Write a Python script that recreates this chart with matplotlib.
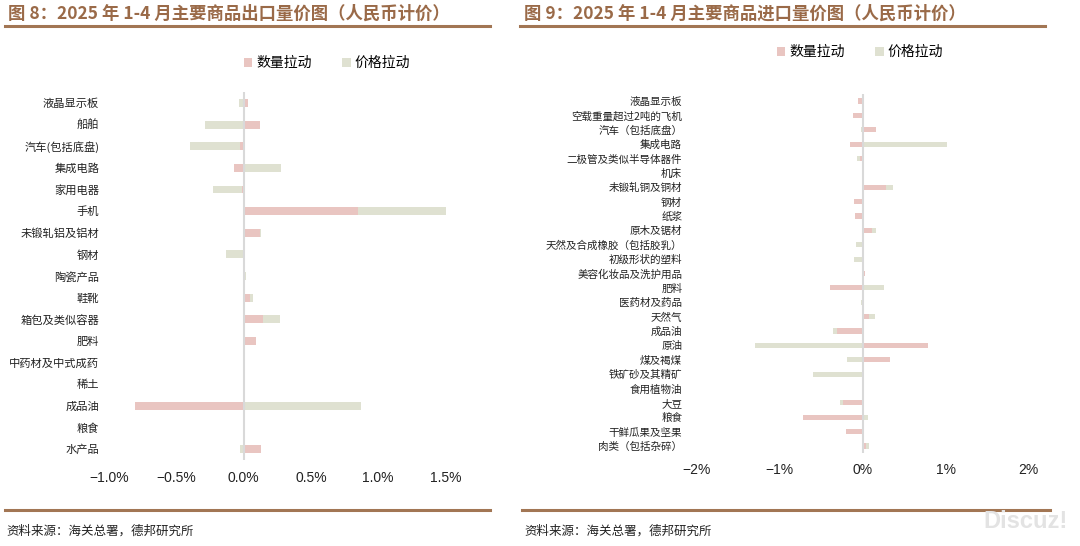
import matplotlib
matplotlib.use("Agg")
import matplotlib.pyplot as plt
from matplotlib.patches import Patch
from matplotlib.ticker import FuncFormatter
from matplotlib.lines import Line2D

plt.rcParams['font.family'] = ['Noto Sans CJK SC', 'DejaVu Sans']

# ---------------- data ----------------
export_cats = ["液晶显示板", "船舶", "汽车(包括底盘)", "集成电路", "家用电器", "手机",
               "未锻轧铝及铝材", "钢材", "陶瓷产品", "鞋靴", "箱包及类似容器", "肥料",
               "中药材及中式成药", "稀土", "成品油", "粮食", "水产品"]
export_qty = [0.035, 0.12, -0.03, -0.07, -0.015, 0.85, 0.123, 0.01, 0.0, 0.05, 0.14, 0.094,
              0.003, 0.002, -0.81, 0.01, 0.13]
export_price = [-0.035, -0.29, -0.37, 0.28, -0.215, 0.66, 0.008, -0.134, 0.02, 0.02, 0.13, 0.0,
                0.0, 0.0, 0.87, 0.0, -0.03]

import_cats = ["液晶显示板", "空载重量超过2吨的飞机", "汽车（包括底盘）", "集成电路",
               "二极管及类似半导体器件", "机床", "未锻轧铜及铜材", "钢材", "纸浆", "原木及锯材",
               "天然及合成橡胶（包括胶乳）", "初级形状的塑料", "美容化妆品及洗护用品", "肥料",
               "医药材及药品", "天然气", "成品油", "原油", "煤及褐煤", "铁矿砂及其精矿",
               "食用植物油", "大豆", "粮食", "干鲜瓜果及坚果", "肉类（包括杂碎）"]
import_qty = [-0.057, -0.117, 0.157, -0.153, -0.028, 0.0, 0.277, -0.105, -0.088, 0.108,
              0.0, 0.0, 0.028, -0.40, 0.0, 0.08, -0.313, 0.783, 0.33, 0.0,
              0.0, -0.234, -0.716, -0.205, 0.04]
import_price = [0.02, 0.0, -0.02, 1.01, -0.04, 0.015, 0.084, 0.02, 0.0, 0.056,
                -0.076, -0.11, 0.0, 0.257, -0.024, 0.068, -0.048, -1.293, -0.193, -0.595,
                0.02, -0.04, 0.068, 0.0, 0.032]

export_ticks = [-1.0, -0.5, 0.0, 0.5, 1.0, 1.5]
import_ticks = [-2, -1, 0, 1, 2]

legend_labels = ["数量拉动", "价格拉动"]
titles = ["图 8：2025 年 1-4 月主要商品出口量价图（人民币计价）",
          "图 9：2025 年 1-4 月主要商品进口量价图（人民币计价）"]
source = "资料来源：海关总署，德邦研究所"

# ---------------- style ----------------
PINK = "#E9C5C1"
GREEN = "#DFE1D1"
BROWN = "#A27654"
TITLE_C = "#9A6A48"

W, H = 1080, 546
fig = plt.figure(figsize=(W / 100, H / 100), dpi=100)


def px_rect(x0, y0, x1, y1):
    return [x0 / W, 1 - y1 / H, (x1 - x0) / W, (y1 - y0) / H]


def draw(ax, cats, qty, price, ticks, fmt, label_size, label_pad, tick_pad, bh):
    n = len(cats)
    ys = list(range(n))
    ax.barh(ys, qty, height=bh, color=PINK, zorder=2)
    lefts = [q if (q * p > 0) else 0 for q, p in zip(qty, price)]
    ax.barh(ys, price, left=lefts, height=bh, color=GREEN, zorder=2)
    ax.set_ylim(n - 0.5, -0.5)
    ax.set_xlim(ticks[0], ticks[-1])
    ax.set_xticks(ticks)
    ax.xaxis.set_major_formatter(FuncFormatter(fmt))
    ax.set_yticks(ys)
    ax.set_yticklabels(cats, fontsize=label_size, color="#222222")
    for s in ["top", "right", "bottom", "left"]:
        ax.spines[s].set_visible(False)
    ax.axvline(0, color="#D9D9D9", lw=1.5, zorder=3)
    ax.tick_params(axis="y", length=0, pad=label_pad)
    ax.tick_params(axis="x", length=0, pad=tick_pad, labelsize=10, labelcolor="#222222")
    for t in ax.get_xticklabels():
        t.set_fontfamily(["Liberation Sans", "DejaVu Sans"])


ax1 = fig.add_axes(px_rect(109.2, 92.2, 445.5, 459.8))
draw(ax1, export_cats, export_qty, export_price, export_ticks,
     lambda v, p: ("\u2212" if v < 0 else "") + f"{abs(v):.1f}%", 8.1, 7.2, 8, 0.36)

ax2 = fig.add_axes(px_rect(696.7, 93.8, 1028.7, 453.2))
draw(ax2, import_cats, import_qty, import_price, import_ticks,
     lambda v, p: ("\u2212" if v < 0 else "") + f"{abs(v):.0f}%", 7.6, 10.5, 7, 0.35)

handles = [Patch(facecolor=PINK, edgecolor="none"), Patch(facecolor=GREEN, edgecolor="none")]
for cx, cy in [(327, 63), (860, 52)]:
    fig.legend(handles, legend_labels, loc="center", bbox_to_anchor=(cx / W, 1 - cy / H),
               ncol=2, frameon=False, fontsize=10, handlelength=0.6, handleheight=0.6,
               handletextpad=0.3, columnspacing=2.2)

# titles and lines
for x0, x1, t in [(6, 490, titles[0]), (522, 1045, titles[1])]:
    fig.text(x0 + 2 / W * 0 + 2 / 1 * 0 + (0) + 2 / W, 1 - 14 / H, t, fontsize=12.5, fontweight="bold",
             color=TITLE_C, va="center", ha="left", transform=fig.transFigure) if False else None
fig.text(8 / W, 1 - 14 / H, titles[0], fontsize=12.5, fontweight="bold", color=TITLE_C,
         va="center", ha="left")
fig.text(524 / W, 1 - 14 / H, titles[1], fontsize=12.5, fontweight="bold", color=TITLE_C,
         va="center", ha="left")
for x0, x1, y in [(5, 490, 25.5), (520, 1045, 25.5), (5, 490, 509.5), (522, 1050, 509.5)]:
    fig.add_artist(Line2D([x0 / W, x1 / W], [1 - y / H, 1 - y / H], color=BROWN, lw=2.2))

fig.text(6 / W, 1 - 531 / H, source, fontsize=9, color="#222222", va="center", ha="left")
fig.text(524 / W, 1 - 531 / H, source, fontsize=9, color="#222222", va="center", ha="left")
fig.text(1068 / W, 1 - 522 / H, "Discuz!", fontsize=17, fontweight="bold", color="#E3E3E3",
         va="center", ha="right", family=["Liberation Sans", "DejaVu Sans"])

fig.savefig("out.png", dpi=100)
